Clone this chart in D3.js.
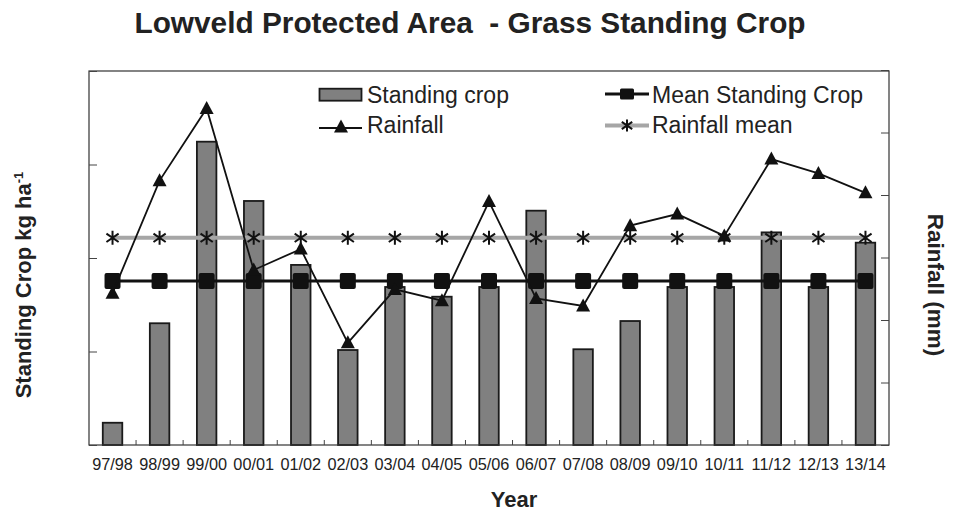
<!DOCTYPE html>
<html>
<head>
<meta charset="utf-8">
<script src="https://cdn.jsdelivr.net/npm/d3@7"></script>
<style>
  html, body { margin: 0; padding: 0; background: #fff; }
  text { font-family: "Liberation Sans", Arial, sans-serif; }
</style>
</head>
<body>
<svg id="chart" width="955" height="513"></svg>
<script>
const years = ["97/98","98/99","99/00","00/01","01/02","02/03","03/04","04/05","05/06","06/07","07/08","08/09","09/10","10/11","11/12","12/13","13/14"];
const standingCrop = [119, 651, 1622, 1305, 963, 508, 845, 793, 845, 1253, 512, 663, 845, 845, 1137, 845, 1082];
const meanStandingCrop = [877, 877, 877, 877, 877, 877, 877, 877, 877, 877, 877, 877, 877, 877, 877, 877, 877];
const rainfall = [486, 846, 1077, 560, 627, 327, 498, 462, 779, 469, 445, 702, 739, 669, 915, 869, 807];
const rainfallMean = [663, 663, 663, 663, 663, 663, 663, 663, 663, 663, 663, 663, 663, 663, 663, 663, 663];
const leftTicks = [0, 500, 1000, 1500, 2000];
const rightTicks = [0, 200, 400, 600, 800, 1000, 1200];

const svg = d3.select("#chart");
const L = 89, R = 889, T = 71, B = 445;

const x = d3.scaleBand().domain(years).range([L, R]).paddingInner(0).paddingOuter(0);
const yL = d3.scaleLinear().domain([0, 2000]).range([B, T]);
const yR = d3.scaleLinear().domain([0, 1200]).range([B, T - 1]);
const barW = 19.5;
const cx = d => x(d) + x.bandwidth() / 2;

// Title
svg.append("text").attr("x", 470).attr("y", 32.5).attr("text-anchor", "middle")
  .attr("font-size", 29.8).attr("font-weight", "bold").attr("fill", "#222")
  .style("white-space", "pre")
  .text("Lowveld Protected Area  - Grass Standing Crop");

// Bars
svg.append("g").selectAll("rect").data(years).join("rect")
  .attr("x", d => cx(d) - barW / 2)
  .attr("y", (d, i) => yL(standingCrop[i]))
  .attr("width", barW)
  .attr("height", (d, i) => B - yL(standingCrop[i]))
  .attr("fill", "#808080").attr("stroke", "#1a1a1a").attr("stroke-width", 1.8);

// Frame
svg.append("rect").attr("x", L).attr("y", T).attr("width", R - L).attr("height", B - T)
  .attr("fill", "none").attr("stroke", "#333").attr("stroke-width", 1.2);

// Left axis ticks (inward, no labels)
const axL = d3.axisRight(yL).tickValues(leftTicks).tickSize(8).tickFormat("");
svg.append("g").attr("transform", `translate(${L},0)`).call(axL)
  .call(g => g.select(".domain").remove())
  .call(g => g.selectAll("line").attr("stroke", "#444"));
// Right axis ticks (inward)
const axR = d3.axisLeft(yR).tickValues(rightTicks).tickSize(8).tickFormat("");
svg.append("g").attr("transform", `translate(${R},0)`).call(axR)
  .call(g => g.select(".domain").remove())
  .call(g => g.selectAll("line").attr("stroke", "#444"));
// Bottom ticks between categories
const bounds = years.slice(1).map(d => x(d));
svg.append("g").selectAll("line").data(bounds).join("line")
  .attr("x1", d => d).attr("x2", d => d).attr("y1", B).attr("y2", B - 5)
  .attr("stroke", "#444").attr("stroke-width", 1);
// Bottom labels
const axB = d3.axisBottom(x).tickSize(0).tickPadding(13);
svg.append("g").attr("transform", `translate(0,${B})`).call(axB)
  .call(g => g.select(".domain").remove())
  .call(g => g.selectAll("text").attr("font-size", 16.3).attr("fill", "#222")
    .attr("font-family", "Liberation Sans, Arial, sans-serif"));

// Rainfall mean (grey line + asterisks)
const lineR = d3.line().x((d, i) => cx(years[i])).y(d => yR(d));
const lineL = d3.line().x((d, i) => cx(years[i])).y(d => yL(d));
svg.append("path").datum(rainfallMean).attr("d", lineR)
  .attr("fill", "none").attr("stroke", "#a6a6a6").attr("stroke-width", 4);
const star = s => `M0,${-s} L0,${s} M${-s*0.87},${-s*0.6} L${s*0.87},${s*0.6} M${-s*0.87},${s*0.6} L${s*0.87},${-s*0.6}`;
svg.append("g").selectAll("path").data(rainfallMean).join("path")
  .attr("transform", (d, i) => `translate(${cx(years[i])},${yR(d)})`)
  .attr("d", star(7)).attr("stroke", "#111").attr("stroke-width", 2).attr("fill", "none");

// Mean standing crop (black line + squares)
svg.append("path").datum(meanStandingCrop).attr("d", lineL)
  .attr("fill", "none").attr("stroke", "#111").attr("stroke-width", 3);
svg.append("g").selectAll("rect").data(meanStandingCrop).join("rect")
  .attr("x", (d, i) => cx(years[i]) - 8).attr("y", d => yL(d) - 8)
  .attr("width", 16).attr("height", 16).attr("rx", 2)
  .attr("fill", "#111");

// Rainfall (black line + triangles)
svg.append("path").datum(rainfall).attr("d", lineR)
  .attr("fill", "none").attr("stroke", "#111").attr("stroke-width", 1.8);
const tri = "M0,-7.5 L7,5.5 L-7,5.5 Z";
svg.append("g").selectAll("path").data(rainfall).join("path")
  .attr("transform", (d, i) => `translate(${cx(years[i])},${yR(d)})`)
  .attr("d", tri).attr("fill", "#111");

// Legend
const lg = svg.append("g");
lg.append("rect").attr("x", 319.5).attr("y", 88.7).attr("width", 42).attr("height", 12)
  .attr("fill", "#808080").attr("stroke", "#1a1a1a").attr("stroke-width", 1.8);
lg.append("line").attr("x1", 319).attr("x2", 362).attr("y1", 128).attr("y2", 128)
  .attr("stroke", "#111").attr("stroke-width", 1.8);
lg.append("path").attr("transform", "translate(341,127)").attr("d", tri).attr("fill", "#111");
lg.append("line").attr("x1", 605).attr("x2", 649).attr("y1", 94).attr("y2", 94)
  .attr("stroke", "#111").attr("stroke-width", 3);
lg.append("rect").attr("x", 620).attr("y", 88.5).attr("width", 14).attr("height", 11).attr("rx", 1.5)
  .attr("fill", "#111");
lg.append("line").attr("x1", 605).attr("x2", 649).attr("y1", 125.5).attr("y2", 125.5)
  .attr("stroke", "#a6a6a6").attr("stroke-width", 4);
lg.append("path").attr("transform", "translate(627,125.5)").attr("d", star(6))
  .attr("stroke", "#111").attr("stroke-width", 2).attr("fill", "none");
const legText = [["Standing crop", 367, 103], ["Rainfall", 367, 133], ["Mean Standing Crop", 652, 103], ["Rainfall mean", 652, 133]];
lg.selectAll("text").data(legText).join("text")
  .attr("x", d => d[1]).attr("y", d => d[2]).attr("font-size", 23).attr("fill", "#222")
  .text(d => d[0]);

// Axis titles
svg.append("text").attr("x", 514).attr("y", 507).attr("text-anchor", "middle")
  .attr("font-size", 22).attr("font-weight", "bold").attr("fill", "#222").text("Year");
const yl = svg.append("text").attr("transform", "translate(31,285) rotate(-90)")
  .attr("text-anchor", "middle").attr("font-size", 22).attr("font-weight", "bold").attr("fill", "#222");
yl.append("tspan").text("Standing Crop kg ha");
yl.append("tspan").attr("dy", -8).attr("font-size", 13).text("-1");
svg.append("text").attr("transform", "translate(928,285) rotate(90)")
  .attr("text-anchor", "middle").attr("font-size", 22.5).attr("font-weight", "bold").attr("fill", "#222")
  .text("Rainfall (mm)");
</script>
</body>
</html>
